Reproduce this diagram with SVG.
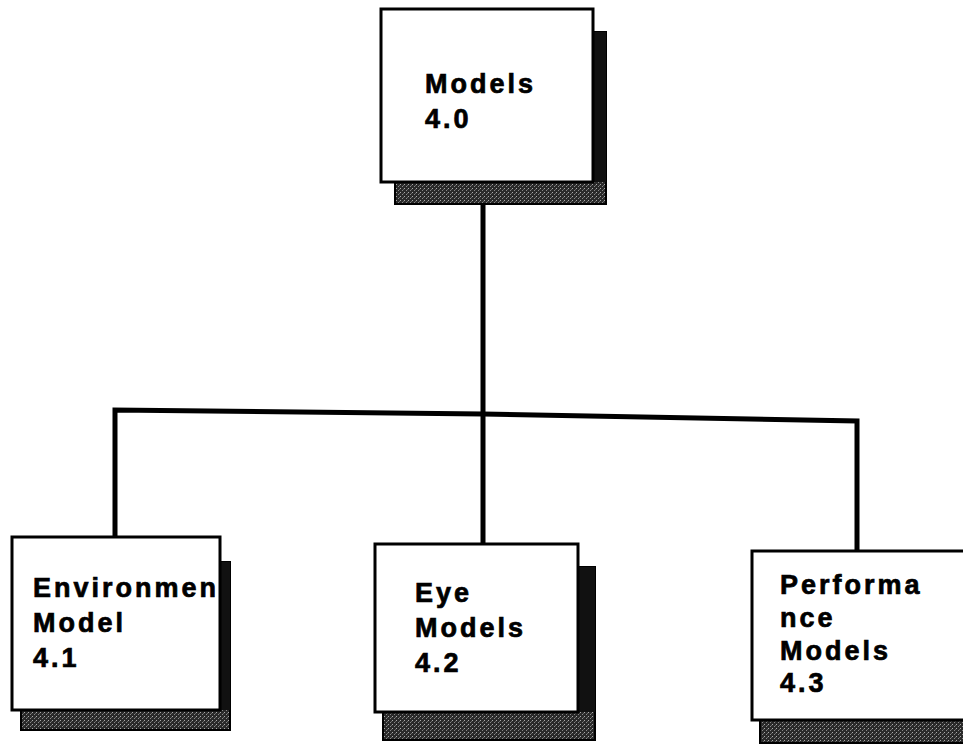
<svg xmlns="http://www.w3.org/2000/svg" width="963" height="744" viewBox="0 0 963 744">
<style>
.box{fill:#fff;stroke:#000;stroke-width:3}
.shadow{fill:url(#stip);stroke:#000;stroke-width:2}
.sh-r{fill:#111}
.lbl{font-family:"Liberation Sans",Arial,sans-serif;font-weight:bold;font-size:27px;letter-spacing:3px;fill:#000;stroke:#000;stroke-width:0.7}
.conn{stroke:#000;stroke-width:5;fill:none;stroke-linecap:square}
</style>
<defs>
<pattern id="stip" width="4" height="4" patternUnits="userSpaceOnUse">
<rect width="4" height="4" fill="#2a2a2a"/>
<rect x="0" y="0" width="1" height="1" fill="#aaa"/>
<rect x="2" y="2" width="1" height="1" fill="#888"/>
<rect x="3" y="1" width="1" height="1" fill="#666"/>
</pattern>
<clipPath id="c1"><rect x="12" y="537" width="207" height="173"/></clipPath>
<clipPath id="c4"><rect x="752" y="551" width="211" height="169"/></clipPath>
</defs>
<g id="connectors">
<line class="conn" x1="483" y1="204" x2="483" y2="545"/>
<polyline class="conn" points="115,538 115,410 483,414 857,421 857,552"/>
</g>
<g id="n40">
<rect class="shadow" x="395" y="32" width="211" height="172"/>
<rect class="sh-r" x="593" y="32" width="13" height="150"/>
<rect class="box" x="381" y="9" width="212" height="173"/>
<text class="lbl" x="425" y="93">Models</text>
<text class="lbl" x="425" y="128">4.0</text>
</g>
<g id="n41">
<rect class="shadow" x="21" y="562" width="209" height="168"/>
<rect class="sh-r" x="220" y="562" width="10" height="148"/>
<rect class="box" x="12" y="537" width="208" height="173"/>
<g clip-path="url(#c1)">
<text class="lbl" x="33" y="597">Environmen</text>
</g>
<text class="lbl" x="33" y="632">Model</text>
<text class="lbl" x="33" y="667">4.1</text>
</g>
<g id="n42">
<rect class="shadow" x="383" y="567" width="212" height="173"/>
<rect class="sh-r" x="578" y="567" width="17" height="145"/>
<rect class="box" x="375" y="544" width="203" height="168"/>
<text class="lbl" x="415" y="602">Eye</text>
<text class="lbl" x="415" y="637">Models</text>
<text class="lbl" x="415" y="672">4.2</text>
</g>
<g id="n43">
<rect class="shadow" x="760" y="575" width="205" height="168"/>
<rect class="box" x="752" y="551" width="213" height="169"/>
<g clip-path="url(#c4)">
<text class="lbl" x="780" y="594">Performa</text>
<text class="lbl" x="780" y="627">nce</text>
<text class="lbl" x="780" y="660">Models</text>
<text class="lbl" x="780" y="692">4.3</text>
</g>
</g>
</svg>
